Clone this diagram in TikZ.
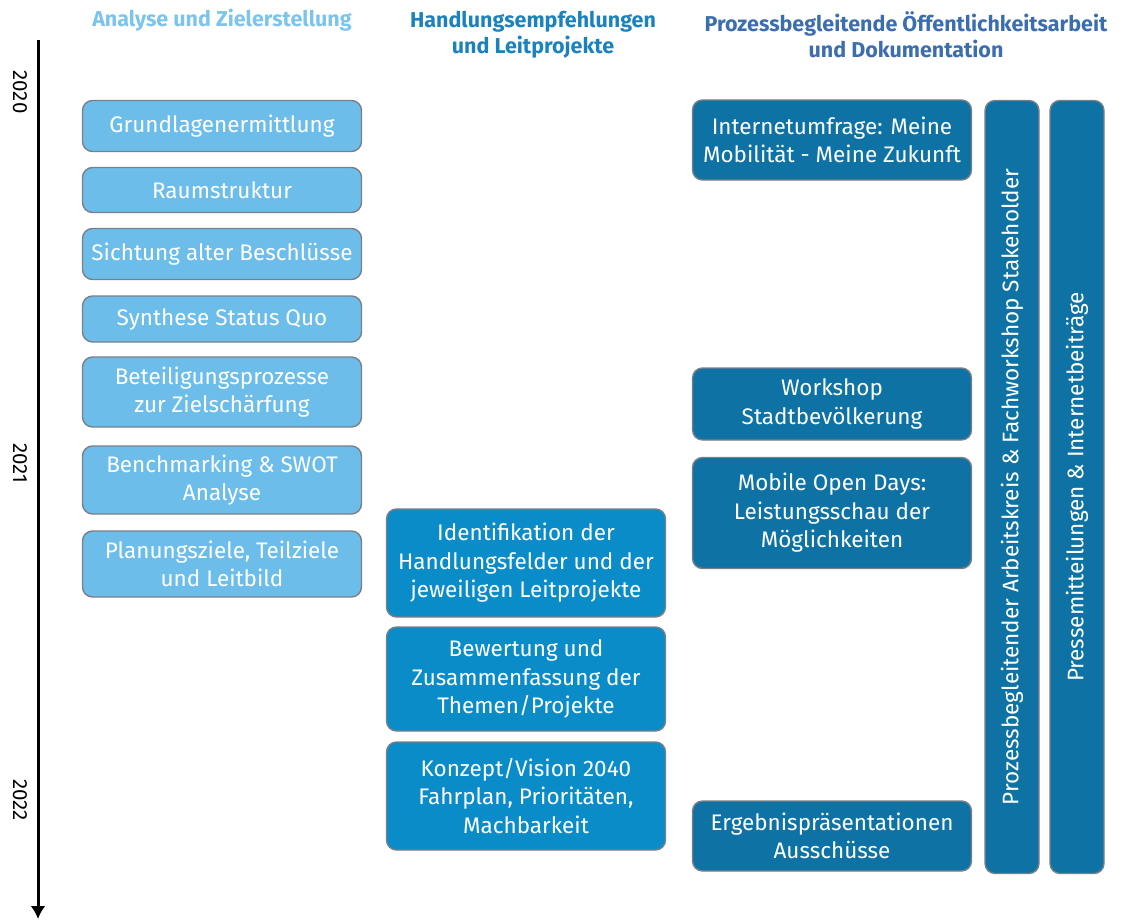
\documentclass[tikz,border=0pt]{standalone}
\usepackage{fontspec}
\setmainfont{Fira Sans}
\usetikzlibrary{arrows.meta, positioning}

\definecolor{lightblue}{HTML}{6DBDEA}
\definecolor{midblue}{HTML}{0A8CC9}
\definecolor{darkblue}{HTML}{0E73A4}
\definecolor{boxline}{HTML}{7A8087}
\definecolor{headA}{HTML}{7CC4EC}
\definecolor{headB}{HTML}{1C82BE}
\definecolor{headC}{HTML}{3B6DAF}

\tikzset{
  box/.style={draw=boxline, line width=1.4pt, rounded corners=10pt, text=white,
    align=center, inner sep=1pt, font=\fontsize{22.5}{28.5}\selectfont},
  leftbox/.style={box, fill=lightblue, minimum width=279pt},
  midbox/.style={box, fill=midblue, minimum width=279pt},
  rightbox/.style={box, fill=darkblue, minimum width=279pt},
  barbox/.style={box, fill=darkblue, rotate=90, minimum width=773pt, minimum height=54pt},
  header/.style={align=center, font=\bfseries\fontsize{21.5}{26}\selectfont},
  year/.style={rotate=-90, font=\fontsize{20.5}{22}\selectfont}
}

\begin{document}
\begin{tikzpicture}[x=1pt, y=-1pt]
\useasboundingbox (0,0) rectangle (1123,923);

% time axis
\coordinate (axtop) at (38,40);
\coordinate (axbot) at (38,919);
\draw[line width=3pt, -{Latex[length=13pt, width=15pt]}] (axtop) -- (axbot);
\node[year] (y2020) at (20,92) {2020};
\node[year] (y2021) at (20,463) {2021};
\node[year] (y2022) at (20,800) {2022};

% headers
\node[header, text=headA] (hA) at (222,20) {Analyse und Zielerstellung};
\node[header, text=headB] (hB) at (533,35) {Handlungsempfehlungen\\und Leitprojekte};
\node[header, text=headC] (hC) at (906,35) {Prozessbegleitende Öffentlichkeitsarbeit\\und Dokumentation};

% Analyse
\node[leftbox, minimum height=51pt] (a1) at (222,126) {Grundlagenermittlung};
\node[leftbox, minimum height=45pt] (a2) at (222,190) {Raumstruktur};
\node[leftbox, minimum height=51pt] (a3) at (222,254) {Sichtung alter Beschlüsse};
\node[leftbox, minimum height=46pt] (a4) at (222,319) {Synthese Status Quo};
\node[leftbox, minimum height=70pt] (a5) at (222,392) {Beteiligungsprozesse\\zur Zielschärfung};
\node[leftbox, minimum height=68pt] (a6) at (222,480) {Benchmarking \& SWOT\\Analyse};
\node[leftbox, minimum height=66pt] (a7) at (222,564) {Planungsziele, Teilziele\\und Leitbild};

% Handlungsempfehlungen
\node[midbox, minimum height=108pt] (b1) at (526,563) {Identifikation der\\Handlungsfelder und der\\jeweiligen Leitprojekte};
\node[midbox, minimum height=104pt] (b2) at (526,679) {Bewertung und\\Zusammenfassung der\\Themen/Projekte};
\node[midbox, minimum height=108pt] (b3) at (526,796) {Konzept/Vision 2040\\Fahrplan, Prioritäten,\\Machbarkeit};

% Oeffentlichkeitsarbeit
\node[rightbox, minimum height=80pt] (c1) at (832,140) {Internetumfrage: Meine\\Mobilität - Meine Zukunft};
\node[rightbox, minimum height=72pt] (c2) at (832,404) {Workshop\\Stadtbevölkerung};
\node[rightbox, minimum height=111pt] (c3) at (832,513) {Mobile Open Days:\\Leistungsschau der\\Möglichkeiten};
\node[rightbox, minimum height=70pt] (c4) at (832,836) {Ergebnispräsentationen\\Ausschüsse};

\node[barbox] (d1) at (1012,487) {Prozessbegleitender Arbeitskreis \& Fachworkshop Stakeholder};
\node[barbox] (d2) at (1077,487) {Pressemitteilungen \& Internetbeiträge};

\end{tikzpicture}
\end{document}
